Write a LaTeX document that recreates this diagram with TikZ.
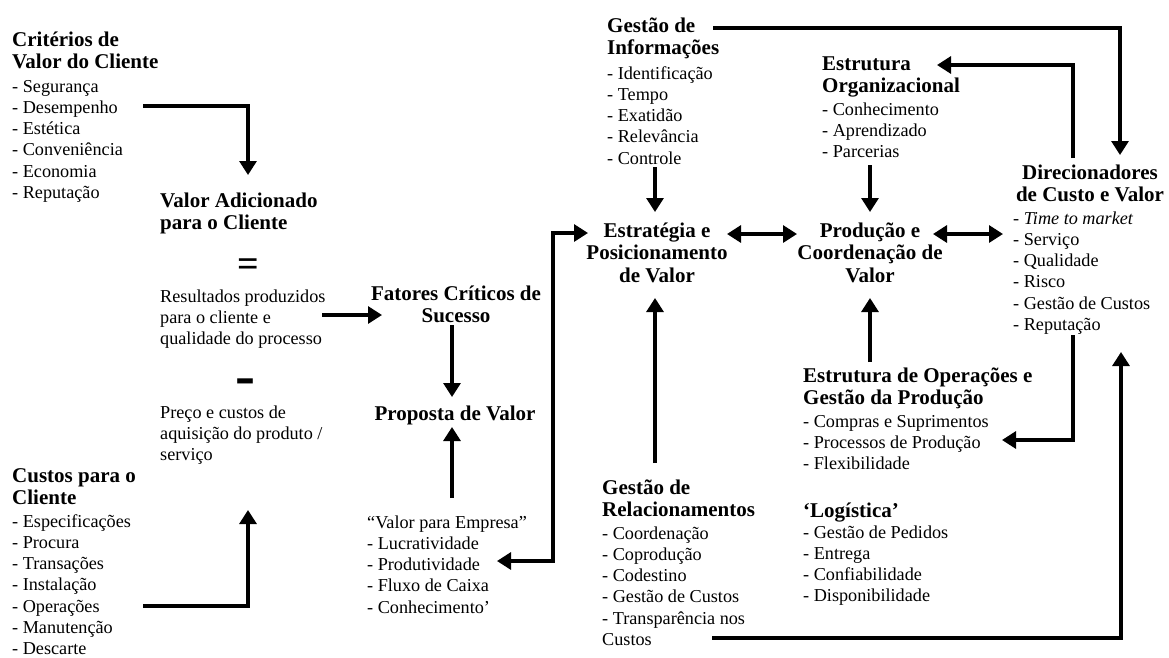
\documentclass[tikz,border=0pt]{standalone}
\usepackage{fontspec}
\setmainfont{Liberation Serif}
\usetikzlibrary{arrows.meta}
\newcommand{\blkl}[1]{\begin{tabular}[t]{@{}l@{}}#1\end{tabular}}
\newcommand{\blkc}[1]{\begin{tabular}[t]{@{}c@{}}#1\end{tabular}}
\begin{document}
\begin{tikzpicture}[x=1pt,y=-1pt,
  hd/.style={inner sep=0pt, anchor=base west, font=\fontsize{21}{22.7}\selectfont\bfseries},
  hdc/.style={hd, anchor=base},
  it/.style={inner sep=0pt, anchor=base west, font=\fontsize{18.2}{21.3}\selectfont},
  arr/.style={line width=3.1pt, -{Triangle[width=17pt,length=14pt]}},
  arrtwo/.style={line width=3.1pt, {Triangle[width=17pt,length=14pt]}-{Triangle[width=17pt,length=14pt]}},
  sign/.style={inner sep=0pt, anchor=base, text depth=0pt}]
\useasboundingbox (0,0) rectangle (1169,657);

% ---------- left column ----------
\node[hd] (critH) at (12,46) {\blkl{Critérios de\\Valor do Cliente}};
\node[it] (critI) at (12,92) {\blkl{- Segurança\\- Desempenho\\- Estética\\- Conveniência\\- Economia\\- Reputação}};
\node[hd] (vaH) at (160,207) {\blkl{Valor Adicionado\\para o Cliente}};
\node[sign, text height=16pt, font=\fontsize{38}{38}\selectfont\bfseries] (eq) at (248,276) {=};
\node[it] (res) at (160,302) {\blkl{Resultados produzidos\\para o cliente e\\qualidade do processo}};
\node[sign, text height=18pt, font=\fontsize{60}{60}\selectfont\bfseries] (minus) at (245,395) {-};
\node[it] (preco) at (160,418) {\blkl{Preço e custos de\\aquisição do produto /\\serviço}};
\node[hd] (custH) at (12,482) {\blkl{Custos para o\\Cliente}};
\node[it] (custI) at (12,527) {\blkl{- Especificações\\- Procura\\- Transações\\- Instalação\\- Operações\\- Manutenção\\- Descarte}};

% ---------- second column ----------
\node[hdc] (fat) at (456,300) {\blkc{Fatores Críticos de\\Sucesso}};
\node[hdc] (prop) at (455,420) {Proposta de Valor};
\node[it] (vemp) at (367,528) {\blkl{“Valor para Empresa”\\- Lucratividade\\- Produtividade\\- Fluxo de Caixa\\- Conhecimento’}};

% ---------- third column ----------
\node[hd] (giH) at (607,32) {\blkl{Gestão de\\Informações}};
\node[it] (giI) at (607,79) {\blkl{- Identificação\\- Tempo\\- Exatidão\\- Relevância\\- Controle}};
\node[hdc] (estr) at (657,237) {\blkc{Estratégia e\\Posicionamento\\de Valor}};
\node[hd] (grH) at (602,494) {\blkl{Gestão de\\Relacionamentos}};
\node[it] (grI) at (602,539) {\blkl{- Coordenação\\- Coprodução\\- Codestino\\- Gestão de Custos\\- Transparência nos\\Custos}};

% ---------- fourth column ----------
\node[hd] (eoH) at (822,70) {\blkl{Estrutura\\Organizacional}};
\node[it] (eoI) at (822,115) {\blkl{- Conhecimento\\- Aprendizado\\- Parcerias}};
\node[hdc] (prod) at (870,237) {\blkc{Produção e\\Coordenação de\\Valor}};
\node[hd] (opH) at (803,382) {\blkl{Estrutura de Operações e\\Gestão da Produção}};
\node[it] (opI) at (803,427) {\blkl{- Compras e Suprimentos\\- Processos de Produção\\- Flexibilidade}};
\node[hd] (logH) at (803,517) {‘Logística’};
\node[it] (logI) at (803,538) {\blkl{- Gestão de Pedidos\\- Entrega\\- Confiabilidade\\- Disponibilidade}};

% ---------- right column ----------
\node[hdc] (dirH) at (1090,179) {\blkc{Direcionadores\\de Custo e Valor}};
\node[it] (dirI) at (1013,224) {\blkl{- \textit{Time to market}\\- Serviço\\- Qualidade\\- Risco\\- Gestão de Custos\\- Reputação}};

% ---------- connector points ----------
\coordinate (c1s) at (143,106);  \coordinate (c1e) at (248,175);
\coordinate (c2s) at (322,315);  \coordinate (c2e) at (382,315);
\coordinate (c3s) at (143,606);  \coordinate (c3e) at (248,510);
\coordinate (c4s) at (452,325);  \coordinate (c4e) at (452,397);
\coordinate (c5s) at (452,498);  \coordinate (c5e) at (452,427);
\coordinate (c6s) at (497,561);  \coordinate (c6m) at (553,561); \coordinate (c6e) at (588,233);
\coordinate (c7s) at (655,167);  \coordinate (c7e) at (655,212);
\coordinate (c8s) at (655,463);  \coordinate (c8e) at (655,298);
\coordinate (c9s) at (727,234);  \coordinate (c9e) at (797,234);
\coordinate (c10s) at (870,165); \coordinate (c10e) at (870,212);
\coordinate (c11s) at (870,362); \coordinate (c11e) at (870,298);
\coordinate (c12s) at (933,234); \coordinate (c12e) at (1003,234);
\coordinate (c13s) at (713,28);  \coordinate (c13e) at (1120,155);
\coordinate (c14s) at (1073,158); \coordinate (c14e) at (937,65);
\coordinate (c15s) at (1073,335); \coordinate (c15e) at (1002,440);
\coordinate (c16s) at (712,638); \coordinate (c16e) at (1121,352);

% ---------- connectors ----------
\draw[arr] (c1s) -| (c1e);
\draw[arr] (c2s) -- (c2e);
\draw[arr] (c3s) -| (c3e);
\draw[arr] (c4s) -- (c4e);
\draw[arr] (c5s) -- (c5e);
\draw[arrtwo] (c6s) -- (c6m) |- (c6e);
\draw[arr] (c7s) -- (c7e);
\draw[arr] (c8s) -- (c8e);
\draw[arrtwo] (c9s) -- (c9e);
\draw[arr] (c10s) -- (c10e);
\draw[arr] (c11s) -- (c11e);
\draw[arrtwo] (c12s) -- (c12e);
\draw[arr] (c13s) -| (c13e);
\draw[arr] (c14s) |- (c14e);
\draw[arr] (c15s) |- (c15e);
\draw[arr] (c16s) -| (c16e);
\end{tikzpicture}
\end{document}
